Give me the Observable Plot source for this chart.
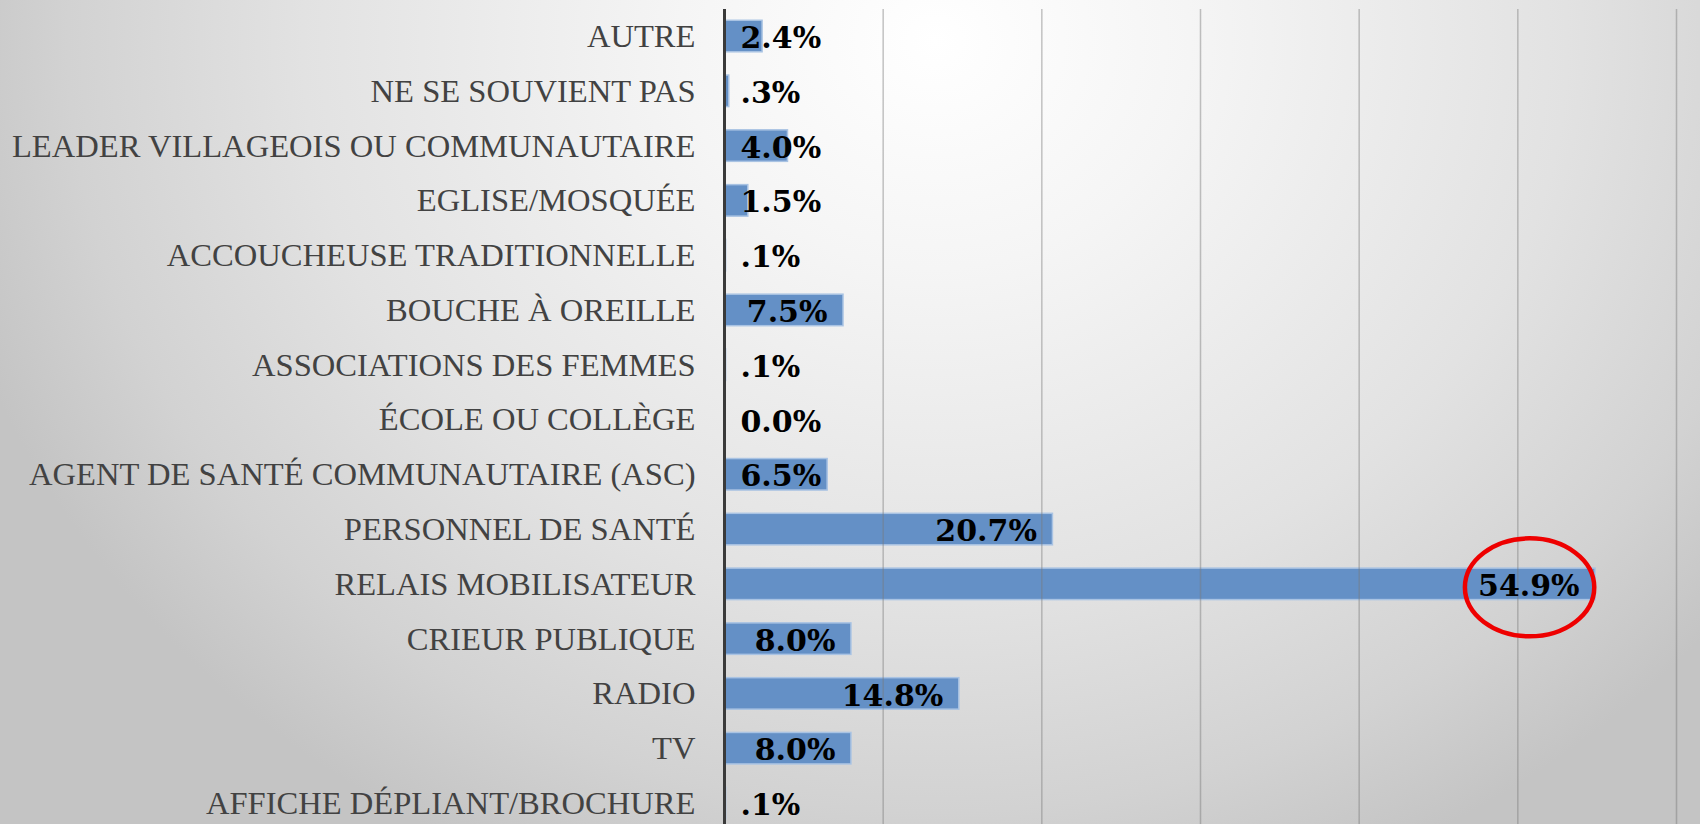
<!DOCTYPE html>
<html>
<head>
<meta charset="utf-8">
<script src="https://cdn.jsdelivr.net/npm/d3@7"></script>
<script src="https://cdn.jsdelivr.net/npm/@observablehq/plot@0.6"></script>
<style>
  html, body { margin: 0; padding: 0; }
  #chart {
    width: 1700px; height: 824px; overflow: hidden;
    background: radial-gradient(ellipse 60% 110% at 55% 5%, #ffffff 0%, #f5f5f5 25%, #e2e2e2 62%, #d2d2d2 85%, #c4c4c4 100%);
  }
  #chart svg { display: block; }
</style>
</head>
<body>
<div id="chart"></div>
<script>
const categories = [
  "AUTRE",
  "NE SE SOUVIENT PAS",
  "LEADER VILLAGEOIS OU COMMUNAUTAIRE",
  "EGLISE/MOSQUÉE",
  "ACCOUCHEUSE TRADITIONNELLE",
  "BOUCHE À OREILLE",
  "ASSOCIATIONS DES FEMMES",
  "ÉCOLE OU COLLÈGE",
  "AGENT DE SANTÉ COMMUNAUTAIRE (ASC)",
  "PERSONNEL DE SANTÉ",
  "RELAIS MOBILISATEUR",
  "CRIEUR PUBLIQUE",
  "RADIO",
  "TV",
  "AFFICHE DÉPLIANT/BROCHURE"
];
const values = [2.4, 0.3, 4.0, 1.5, 0.1, 7.5, 0.1, 0.0, 6.5, 20.7, 54.9, 8.0, 14.8, 8.0, 0.1];
const valueLabels = ["2.4%", ".3%", "4.0%", "1.5%", ".1%", "7.5%", ".1%", "0.0%", "6.5%", "20.7%", "54.9%", "8.0%", "14.8%", "8.0%", ".1%"];
const gridTicks = [10, 20, 30, 40, 50, 60];
const highlighted = "RELAIS MOBILISATEUR";

const data = categories.map((c, i) => ({cat: c, v: values[i], label: valueLabels[i]}));

const ellipseSymbol = {
  draw(ctx, size) {
    const r = Math.sqrt(size / Math.PI);
    const rx = r * 1.32, ry = r, k = 0.5522847;
    ctx.moveTo(rx, 0);
    ctx.bezierCurveTo(rx, k * ry, k * rx, ry, 0, ry);
    ctx.bezierCurveTo(-k * rx, ry, -rx, k * ry, -rx, 0);
    ctx.bezierCurveTo(-rx, -k * ry, -k * rx, -ry, 0, -ry);
    ctx.bezierCurveTo(k * rx, -ry, rx, -k * ry, rx, 0);
    ctx.closePath();
  }
};

const valueFont = {fontFamily: "DejaVu Serif", fontWeight: "bold", fontSize: 30, fill: "#000"};

const chart = Plot.plot({
  width: 1700,
  height: 824,
  marginLeft: 724,
  marginRight: 24,
  marginTop: 9,
  marginBottom: 0,
  style: {
    background: "transparent",
    fontFamily: "Liberation Serif",
    fontSize: "32.6px",
    color: "#424242",
    overflow: "visible"
  },
  x: {domain: [0, 60], axis: null},
  y: {
    domain: categories,
    range: [-3, 842],
    padding: 0.425,
    round: false,
    tickSize: 0,
    tickPadding: 29,
    label: null
  },
  marks: [
    Plot.barX(data, {x: "v", y: "cat", fill: "#6490c6", stroke: "#a9c3e3", strokeWidth: 1.5}),
    Plot.ruleX(gridTicks, {stroke: "#7a7a7a", strokeOpacity: 0.45, strokeWidth: 1.5}),
    Plot.ruleX([0], {stroke: "#3a3a3a", strokeWidth: 3}),
    Plot.text(data.filter(d => d.v >= 7), {x: "v", y: "cat", text: "label", textAnchor: "end", dx: -16, dy: 2, ...valueFont}),
    Plot.text(data.filter(d => d.v < 7), {x: () => 0, y: "cat", text: "label", textAnchor: "start", dx: 16, dy: 2, ...valueFont}),
    Plot.dot(data.filter(d => d.cat === highlighted), {x: "v", y: "cat", dx: -66, dy: 3, r: 49, symbol: ellipseSymbol, fill: "none", stroke: "#ee0000", strokeWidth: 4.5})
  ]
});
document.getElementById("chart").appendChild(chart);
</script>
</body>
</html>
